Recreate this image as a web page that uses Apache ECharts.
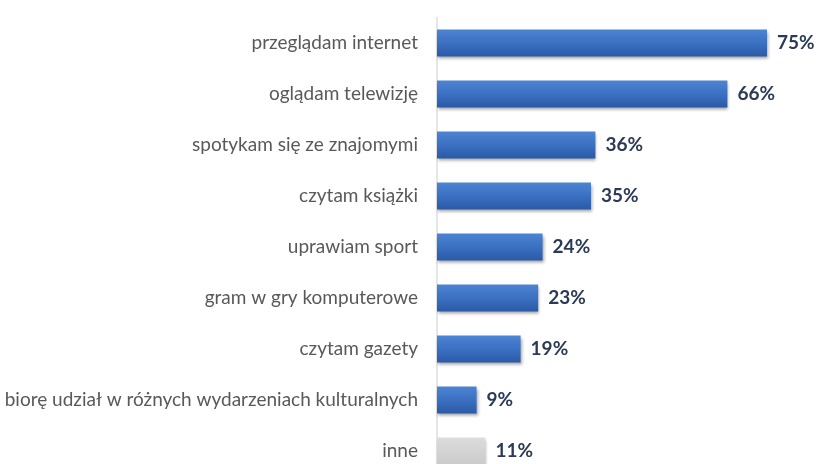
<!DOCTYPE html>
<html>
<head>
<meta charset="utf-8">
<script src="https://cdn.jsdelivr.net/npm/echarts@6/dist/echarts.min.js"></script>
<style>
html,body{margin:0;padding:0;background:#fff;}
#chart{width:816px;height:464px;}
</style>
</head>
<body>
<div id="chart"></div>
<script>
const categories = [
  'przeglądam internet',
  'oglądam telewizję',
  'spotykam się ze znajomymi',
  'czytam książki',
  'uprawiam sport',
  'gram w gry komputerowe',
  'czytam gazety',
  'biorę udział w różnych wydarzeniach kulturalnych',
  'inne'
];
const values = [75, 66, 36, 35, 24, 23, 19, 9, 11];

const blueFill = new echarts.graphic.LinearGradient(0, 0, 0, 1, [
  {offset: 0, color: '#4d84d2'},
  {offset: 0.5, color: '#3b70c2'},
  {offset: 1, color: '#2a5aa6'}
]);
const grayFill = new echarts.graphic.LinearGradient(0, 0, 0, 1, [
  {offset: 0, color: '#dcdcdc'},
  {offset: 1, color: '#cbcbcb'}
]);

const data = values.map((v, i) => ({
  value: v,
  itemStyle: {color: categories[i] === 'inne' ? grayFill : blueFill}
}));

const chart = echarts.init(document.getElementById('chart'));
chart.setOption({
  animation: false,
  backgroundColor: '#ffffff',
  grid: {left: 437, top: 17.5, width: 440, height: 459, outerBoundsMode: 'none', containLabel: false},
  xAxis: {
    type: 'value', min: 0, max: 100,
    show: false
  },
  yAxis: {
    type: 'category',
    data: categories,
    inverse: true,
    axisLine: {show: true, lineStyle: {color: '#dedede', width: 1.5}},
    axisTick: {show: false},
    axisLabel: {
      margin: 19,
      color: '#595959',
      fontFamily: 'Lato, "Liberation Sans", sans-serif',
      fontSize: 19
    }
  },
  series: [{
    type: 'bar',
    data: data,
    barWidth: 27,
    itemStyle: {
      shadowColor: 'rgba(0,0,0,0.35)',
      shadowBlur: 3,
      shadowOffsetX: 1,
      shadowOffsetY: 2
    },
    label: {
      show: true,
      position: 'right',
      distance: 10,
      formatter: '{c}%',
      color: '#2b3a55',
      fontWeight: 'bold',
      fontFamily: 'Lato, "Liberation Sans", sans-serif',
      fontSize: 19
    }
  }]
});
</script>
</body>
</html>
